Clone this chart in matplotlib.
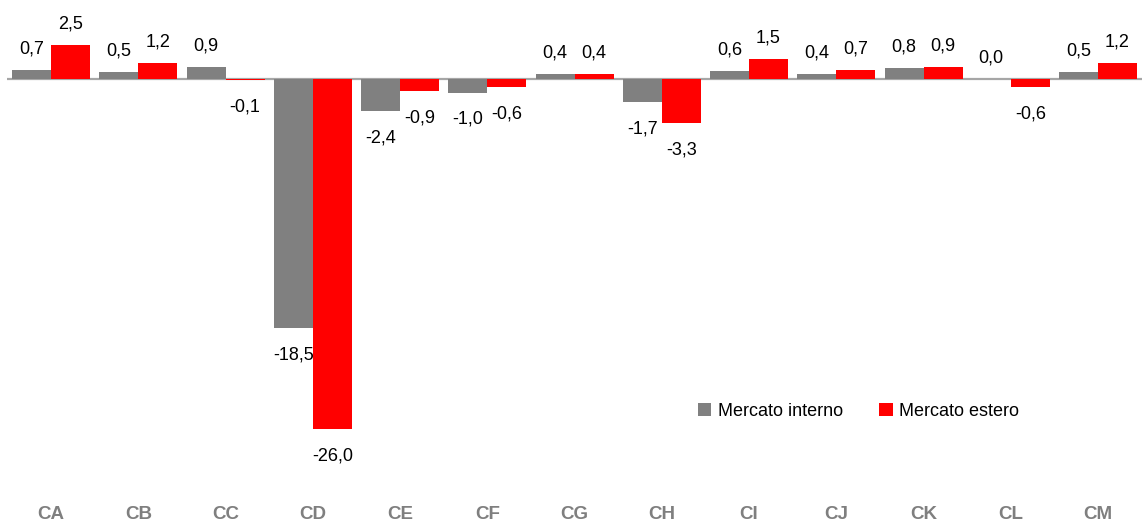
import matplotlib.pyplot as plt
import numpy as np

plt.rcParams['font.family'] = ['Liberation Sans', 'DejaVu Sans']

# %% data
categories = ['CA', 'CB', 'CC', 'CD', 'CE', 'CF', 'CG', 'CH', 'CI', 'CJ', 'CK', 'CL', 'CM']
interno = [0.7, 0.5, 0.9, -18.5, -2.4, -1.0, 0.4, -1.7, 0.6, 0.4, 0.8, 0.0, 0.5]
estero = [2.5, 1.2, -0.1, -26.0, -0.9, -0.6, 0.4, -3.3, 1.5, 0.7, 0.9, -0.6, 1.2]

# %% plot
fig = plt.figure(figsize=(11.46, 5.27), dpi=100)
ax = fig.add_axes([0.0065, 0.0607, 0.9897, 0.9203])

x = np.arange(len(categories))
w = 0.447
b1 = ax.bar(x - w / 2, interno, w, color='#808080', label='Mercato interno', zorder=2)
b2 = ax.bar(x + w / 2, estero, w, color='#ff0000', label='Mercato estero', zorder=2)
ax.axhline(0, color='#a6a6a6', lw=1.6, zorder=1)

def fmt(v):
    return ('%.1f' % v).replace('.', ',')

for bars, vals in [(b1, interno), (b2, estero)]:
    for r, v in zip(bars, vals):
        cx = r.get_x() + r.get_width() / 2
        if v >= 0:
            ax.annotate(fmt(v), (cx, v), xytext=(0, 9), textcoords='offset points',
                        ha='center', va='bottom', fontsize=13)
        else:
            ax.annotate(fmt(v), (cx, v), xytext=(0, -13), textcoords='offset points',
                        ha='center', va='top', fontsize=13)

ax.set_xlim(-0.5, len(categories) - 0.5)
ax.set_ylim(-30.9, 5.13)
ax.set_xticks(x)
ax.set_xticklabels(categories, fontsize=13.5, fontweight='bold', color='#7f7f7f')
ax.tick_params(axis='x', length=0, pad=8)
ax.set_yticks([])
for s in ax.spines.values():
    s.set_visible(False)

fig.legend(loc='center', bbox_to_anchor=(0.749, 0.22), ncol=2, frameon=False,
           fontsize=13, handlelength=0.75, handleheight=0.75, handletextpad=0.35,
           columnspacing=2.0)

fig.savefig('out.png', dpi=100)
